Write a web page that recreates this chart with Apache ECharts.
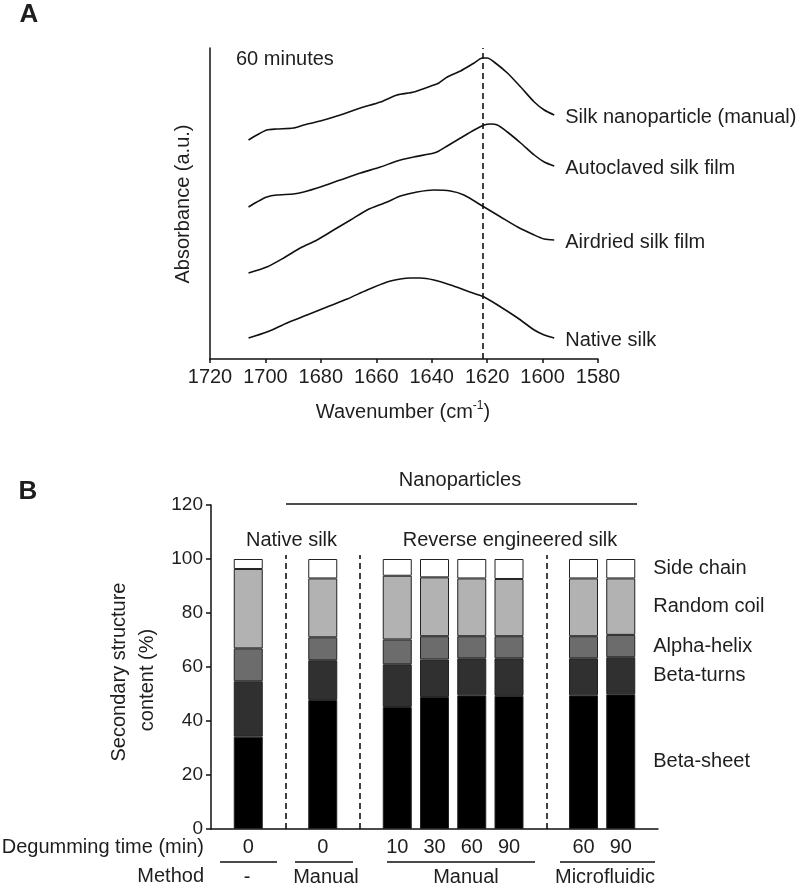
<!DOCTYPE html>
<html><head><meta charset="utf-8">
<script src="https://cdn.jsdelivr.net/npm/echarts@6/dist/echarts.min.js"></script>
<style>html,body{margin:0;padding:0;background:#fff}#c{width:800px;height:888px}</style>
</head><body><div id="c"></div>
<script>
const FONT = "'Liberation Sans', Arial, sans-serif";
const TXT = '#1e1e1e';

// ---------- Panel A data (wavenumber, absorbance a.u.) ----------
const spectraNames = ['Silk nanoparticle (manual)', 'Autoclaved silk film', 'Airdried silk film', 'Native silk'];
const silkNanoparticle = [[1706.1,2.19],[1703.1,2.24],[1699.5,2.29],[1695.9,2.30],[1689.9,2.31],[1686.2,2.34],[1680.2,2.38],[1673.0,2.44],[1665.7,2.51],[1658.5,2.57],[1652.5,2.64],[1646.4,2.67],[1639.2,2.74],[1637.4,2.76],[1634.4,2.82],[1629.6,2.88],[1624.7,2.96],[1621.7,3.01],[1619.9,3.01],[1617.5,2.97],[1612.7,2.86],[1607.9,2.72],[1603.0,2.57],[1599.4,2.49],[1595.8,2.44]];
const autoclavedFilm = [[1706.1,1.52],[1703.1,1.57],[1699.5,1.62],[1695.9,1.64],[1689.9,1.65],[1686.2,1.67],[1680.2,1.72],[1673.0,1.79],[1665.7,1.86],[1658.5,1.92],[1652.5,1.98],[1646.4,2.02],[1639.2,2.06],[1637.4,2.08],[1634.4,2.13],[1629.6,2.21],[1624.7,2.29],[1621.1,2.34],[1618.7,2.35],[1616.3,2.34],[1612.7,2.27],[1607.9,2.16],[1603.0,2.04],[1599.4,1.97],[1595.8,1.93]];
const airdriedFilm = [[1706.1,0.86],[1699.5,0.92],[1693.4,1.01],[1687.4,1.11],[1681.4,1.19],[1675.4,1.29],[1669.3,1.39],[1663.3,1.49],[1656.1,1.57],[1651.3,1.63],[1645.3,1.67],[1639.2,1.69],[1633.2,1.68],[1628.4,1.64],[1621.1,1.52],[1615.1,1.42],[1609.0,1.32],[1603.0,1.24],[1599.4,1.20],[1595.8,1.19]];
const nativeSilk = [[1706.1,0.21],[1699.5,0.27],[1692.2,0.36],[1685.0,0.44],[1677.8,0.52],[1670.5,0.60],[1663.3,0.69],[1656.1,0.77],[1651.3,0.80],[1647.7,0.81],[1644.1,0.81],[1639.2,0.79],[1633.2,0.74],[1627.2,0.68],[1621.1,0.62],[1615.1,0.52],[1609.0,0.41],[1603.0,0.29],[1599.4,0.24],[1595.8,0.21]];
const peakWavenumber = 1621.5;

// ---------- Panel B data (%) ----------
const degummingTimes = ['', '0', '', '0', '', '10', '30', '60', '90', '', '60', '90', ''];
const groupDividers = [2, 4, 9];
const structureNames = ['Beta-sheet', 'Beta-turns', 'Alpha-helix', 'Random coil', 'Side chain'];
const betaSheet  = [34.2, 47.8, 45.2, 48.9, 49.5, 49.3, 49.5, 49.9];
const betaTurns  = [20.5, 14.7, 15.8, 13.9, 13.7, 13.9, 13.7, 13.7];
const alphaHelix = [12.2,  8.5,  9.2,  8.6,  8.2,  8.2,  8.2,  8.3];
const randomCoil = [29.4, 21.8, 23.6, 21.8, 21.4, 21.2, 21.4, 20.9];
const sideChain  = [ 3.7,  7.2,  6.2,  6.8,  7.2,  7.4,  7.2,  7.2];
const methodLabels = ['-', 'Manual', 'Manual', 'Microfluidic'];
const structureColors = ['#000000', '#303030', '#6c6c6c', '#b2b2b2', '#ffffff'];

const chart = echarts.init(document.getElementById('c'), null, {renderer: 'canvas'});

const lineSeries = [silkNanoparticle, autoclavedFilm, airdriedFilm, nativeSilk].map((d, i) => ({
  name: spectraNames[i], type: 'line', xAxisIndex: 0, yAxisIndex: 0,
  data: d, showSymbol: false, smooth: 0.25, silent: true,
  lineStyle: {color: '#111', width: 1.6},
  endLabel: {show: true, formatter: '{a}', fontSize: 20, fontFamily: FONT, color: TXT,
    align: 'left', distance: -11, offset: [0, 2]},
  markLine: i === 3 ? {silent: true, symbol: 'none', label: {show: false},
    lineStyle: {type: [6, 4], width: 1.6, color: '#111'}, data: [{xAxis: peakWavenumber}]} : undefined
}));

const lastIdx = degummingTimes.reduce((a, c, i) => c !== '' ? i : a, -1);
function expand(vals, name) {
  let k = 0;
  return degummingTimes.map((c, i) => {
    if (c === '') return '-';
    const v = vals[k++];
    if (i === lastIdx) return {value: v, label: {show: true, position: 'right', distance: 18,
      formatter: name, fontSize: 20, fontFamily: FONT, color: TXT}};
    return v;
  });
}
const barSeries = [betaSheet, betaTurns, alphaHelix, randomCoil, sideChain].map((d, i) => ({
  name: structureNames[i], type: 'bar', stack: 'total', xAxisIndex: 1, yAxisIndex: 1,
  barWidth: 29, silent: true, data: expand(d, structureNames[i]),
  itemStyle: {color: structureColors[i], borderColor: '#222', borderWidth: 1},
  markLine: i === 0 ? {silent: true, symbol: 'none', label: {show: false},
    lineStyle: {type: [6, 4], width: 1.6, color: '#111'},
    data: groupDividers.map(g => [{coord: [g, 0]}, {coord: [g, 101.5]}])} : undefined
}));

function txt(x, y, text, opt) {
  opt = opt || {};
  return {type: 'text', x: x, y: y, rotation: opt.rotation || 0, silent: true,
    style: Object.assign({text: text, fontSize: opt.size || 20, fontFamily: FONT,
      fontWeight: opt.weight || 'normal', fill: TXT,
      align: opt.align || 'center', verticalAlign: 'middle',
      textAlign: opt.align || 'center', textVerticalAlign: 'middle'}, opt.extra || {})};
}
function hline(x1, x2, y) {
  return {type: 'line', silent: true, shape: {x1: x1, y1: y, x2: x2, y2: y}, style: {stroke: '#111', lineWidth: 1.5}};
}

const groupLines = [[220, 277], [295, 353], [387, 535], [560, 655]];
const methodX = [247, 326, 466, 605];

const graphics = [
  txt(29, 15, 'A', {size: 26, weight: 'bold'}),
  txt(236, 59, '60 minutes', {align: 'left'}),
  txt(183, 204, 'Absorbance (a.u.)', {rotation: Math.PI / 2}),
  txt(403, 412, 'Wavenumber (cm{sup|-1})', {extra: {rich: {sup: {fontSize: 12, fontFamily: FONT, fill: TXT, padding: [0, 0, 12, 0]}}}}),
  txt(28, 492, 'B', {size: 26, weight: 'bold'}),
  txt(460, 480, 'Nanoparticles'),
  hline(286, 637, 504),
  txt(291.5, 540, 'Native silk'),
  txt(510, 540, 'Reverse engineered silk'),
  txt(119, 672, 'Secondary structure', {rotation: Math.PI / 2}),
  txt(147, 680, 'content (%)', {rotation: Math.PI / 2}),
  txt(204, 847, 'Degumming time (min)', {align: 'right'}),
  txt(204, 876, 'Method', {align: 'right'})
];
groupLines.forEach(g => graphics.push(hline(g[0], g[1], 862)));
methodLabels.forEach((m, i) => graphics.push(txt(methodX[i], 877, m)));

chart.setOption({
  animation: false,
  backgroundColor: '#fff',
  textStyle: {fontFamily: FONT},
  grid: [
    {left: 210, right: 202, top: 48, bottom: 529},
    {left: 211, right: 142, top: 505, bottom: 59}
  ],
  xAxis: [
    {type: 'value', gridIndex: 0, inverse: true, min: 1580, max: 1720, interval: 20,
      axisLine: {show: true, lineStyle: {color: '#111', width: 1.5}},
      axisTick: {show: true, length: 4, lineStyle: {color: '#111', width: 1.5}},
      axisLabel: {fontSize: 20, color: TXT, margin: 8, fontFamily: FONT, formatter: v => String(v)},
      splitLine: {show: false}},
    {type: 'category', gridIndex: 1, data: degummingTimes, boundaryGap: false,
      axisLine: {show: true, lineStyle: {color: '#111', width: 1.5}},
      axisTick: {show: false},
      axisLabel: {interval: 0, fontSize: 20, color: TXT, margin: 8, fontFamily: FONT},
      splitLine: {show: false}}
  ],
  yAxis: [
    {type: 'value', gridIndex: 0, min: 0, max: 3.11,
      axisLine: {show: true, lineStyle: {color: '#111', width: 1.5}},
      axisTick: {show: false}, axisLabel: {show: false}, splitLine: {show: false}},
    {type: 'value', gridIndex: 1, min: 0, max: 120, interval: 20,
      axisLine: {show: true, lineStyle: {color: '#111', width: 1.5}},
      axisTick: {show: true, length: 5, lineStyle: {color: '#111', width: 1.5}},
      axisLabel: {fontSize: 19, color: TXT, margin: 8, fontFamily: FONT},
      splitLine: {show: false}}
  ],
  series: lineSeries.concat(barSeries),
  graphic: graphics
});
</script></body></html>
